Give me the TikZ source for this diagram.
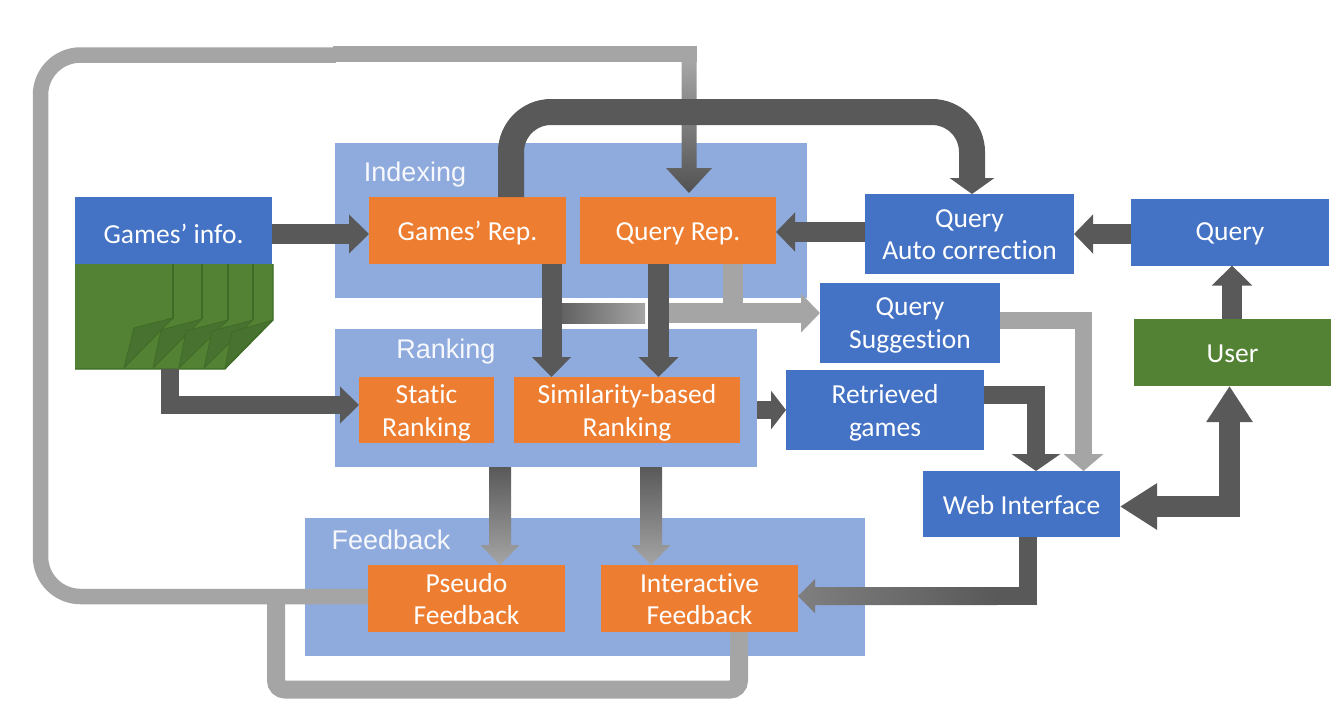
\documentclass[tikz,border=0pt]{standalone}
\usepackage{fontspec}
\setmainfont[Ligatures=NoCommon]{Carlito}
\newfontfamily\titlefont{Liberation Sans}
\usetikzlibrary{arrows.meta,calc}
\definecolor{blueb}{HTML}{4472C4}
\definecolor{orangeb}{HTML}{ED7D31}
\definecolor{greenb}{HTML}{548235}
\definecolor{greenl}{HTML}{3F6B26}
\definecolor{greenf}{HTML}{487230}
\definecolor{regionb}{HTML}{8FAADC}
\definecolor{darkc}{HTML}{595959}
\definecolor{grayc}{HTML}{A5A5A5}
\tikzset{
  txt/.style={inner sep=0pt,outer sep=0pt,text=white,align=center,font=\fontsize{27.5}{32.5}\selectfont},
  bx/.style={inner sep=0pt,outer sep=0pt},
  bluebox/.style={bx,fill=blueb},
  orangebox/.style={bx,fill=orangeb},
  greenbox/.style={bx,fill=greenb},
  region/.style={inner sep=0pt,outer sep=0pt,fill=regionb},
  regtitle/.style={inner sep=0pt,anchor=base,text=white!92!regionb,font=\titlefont\fontsize{27}{30}\selectfont},
  darkline/.style={draw=darkc,line join=miter},
  grayline/.style={draw=grayc,line join=miter},
  dkgrad/.style={top color=darkc,bottom color=grayc,draw=none},
  pageline/.style={draw=greenl,line width=1.1pt,line join=miter},
  fold/.style={draw=greenl,fill=greenf,line width=.8pt,line join=round}
}
% start, end, half shaft, half head, head length
\newcommand{\vgradarrow}[6][]{%
  \shade[#1] ($(#2)+(-#4,0)$) -- ($(#2)+(#4,0)$) -- ($(#3)+(#4,-#6)$) -- ($(#3)+(#5,-#6)$) -- (#3)
     -- ($(#3)+(-#5,-#6)$) -- ($(#3)+(-#4,-#6)$) -- cycle;}
% style, name, x, y, width, height, text drop, text
\newcommand{\boxnode}[8]{%
  \node[#1,minimum width=#5pt,minimum height=#6pt] (#2) at (#3,#4) {};
  \node[txt] (#2-t) at ([yshift=-#7pt]#2.center) {#8};}
\begin{document}
\begin{tikzpicture}[x=1pt,y=-1pt]
\useasboundingbox (0,0) rectangle (1344,721);
% regions
\node[region,minimum width=472pt,minimum height=155pt] (indexing) at (571,220.5) {};
\node[region,minimum width=422pt,minimum height=138pt] (ranking) at (546,398) {};
\node[region,minimum width=560pt,minimum height=138pt] (feedback) at (585,587) {};
\node[regtitle] (tindex) at (415,181) {Indexing};
\node[regtitle] (trank) at (446,358) {Ranking};
\node[regtitle] (tfeed) at (391,549) {Feedback};
% boxes
\boxnode{bluebox}{gi}{173.5}{230.5}{197}{67}{3}{Games’ info.}
\boxnode{orangebox}{gr}{467.5}{230.5}{197}{67}{3}{Games’ Rep.}
\boxnode{orangebox}{qr}{678}{230.5}{196}{67}{3}{Query Rep.}
\boxnode{bluebox}{qa}{969.5}{234}{209}{80}{0.5}{Query\\Auto correction}
\boxnode{bluebox}{qu}{1230}{232}{198}{67}{2}{Query}
\boxnode{bluebox}{qs}{910}{323}{180}{80}{2.5}{Query\\Suggestion}
\boxnode{greenbox}{us}{1232.5}{352.5}{197}{67}{1}{User}
\boxnode{bluebox}{rg}{885}{410}{198}{80}{3}{Retrieved\\games}
\boxnode{bluebox}{wi}{1021.5}{504}{197}{66}{1}{Web Interface}
\boxnode{orangebox}{sr}{426.5}{410}{135}{66}{3}{Static\\Ranking}
\boxnode{orangebox}{si}{627}{410}{226}{66}{3}{Similarity-based\\Ranking}
\boxnode{orangebox}{pf}{466.5}{598.5}{197}{67}{0.5}{Pseudo\\Feedback}
\boxnode{orangebox}{fi}{699.5}{598.5}{197}{67}{0.5}{Interactive\\Feedback}
% document stack
\coordinate (ds) at (75,264);
\fill[greenb] (ds) -- (273,264) -- (273,320) -- (225,369) -- (75,369) -- cycle;
\draw[pageline] (173,264) -- (173,319);
\draw[pageline] (202,264) -- (202,319);
\draw[pageline] (228,264) -- (228,320);
\draw[pageline] (253,264) -- (253,320);
\draw[fold] (173,318) -- (134,328) -- (124,368) -- cycle;
\draw[fold] (202,319) -- (161,330) -- (153,368) -- cycle;
\draw[fold] (228,320) -- (186,331) -- (179,368) -- cycle;
\draw[fold] (253,320) -- (212,331) -- (204,368) -- cycle;
\draw[fold] (273,320) -- (232,332) -- (225,368) -- cycle;
\draw[pageline] (273,264) -- (273,320) -- (225,369) -- (75,369);
\node[inner sep=0pt,minimum width=198pt,minimum height=105pt] (docs) at (174,316.5) {};
% light grey connectors
\draw[grayline,line width=18pt,rounded corners=9pt] (739,0 |- fi.south) -- (739,689.5) -- (276,689.5) -- (276,596);
\draw[grayline,line width=15.5pt,rounded corners=40pt] (pf.west |- 0,596.5) -- (40.5,596.5) -- (40.5,55) -- (336,55);
\draw[grayline,line width=16pt] (333,54) -- (697,54);
\coordinate (qrtop) at (689,193);
\coordinate (qrbar) at (689,62);
\vgradarrow[top color=grayc,bottom color=darkc!92!black,draw=none]{qrbar}{qrtop}{7.5}{23}{25}
% Games' Rep. to Auto correction
\draw[darkline,line width=26pt,rounded corners=40pt,-{Triangle[width=44pt,length=16pt]}] (511,0 |- gr.north) -- (511,112) -- (972,112) -- (972,0 |- qa.north);
% horizontal
\draw[darkline,line width=20pt,-{Triangle[width=38pt,length=20pt]}] (gi.east |- 0,234) -- (gr.west |- 0,234);
\draw[darkline,line width=20pt,-{Triangle[width=38pt,length=19pt]}] (qu.west |- 0,234) -- (qa.east |- 0,234);
\draw[darkline,line width=20pt,-{Triangle[width=38pt,length=19pt]}] (qa.west |- 0,232) -- (qr.east |- 0,232);
\draw[darkline,line width=18pt,-{Triangle[width=38pt,length=15pt]}] (ranking.east |- 0,410) -- (rg.west |- 0,410);
% docs to Static Ranking
\draw[darkline,line width=18pt,-{Triangle[width=36pt,length=19pt]}] (169.5,0 |- docs.south) -- (169.5,405) -- (sr.west |- 0,405);
% Query Rep. to Query Suggestion
\coordinate (gb1) at (551,303);
\coordinate (gb2) at (645,323);
\draw[grayline,line width=20pt,-{Triangle[width=38pt,length=19pt]}] (650,313) -- (qs.west |- 0,313);
\draw[grayline,line width=20pt] (733,0 |- qr.south) -- (733,313);
\shade[left color=darkc,right color=grayc,draw=none] (gb1) rectangle (gb2);
% Rep to ranking
\draw[darkline,line width=20pt,-{Triangle[width=38pt,length=20pt]}] (551.5,0 |- gr.south) -- (551.5,0 |- si.north);
\draw[darkline,line width=21pt,-{Triangle[width=39pt,length=20pt]}] (658.5,0 |- qr.south) -- (658.5,0 |- si.north);
% ranking to feedback
\coordinate (a1s) at (500,0 |- ranking.south);
\coordinate (a1e) at (500,0 |- pf.north);
\coordinate (a2s) at (651,0 |- ranking.south);
\coordinate (a2e) at (651,0 |- fi.north);
\vgradarrow[dkgrad]{a1s}{a1e}{11}{19.5}{20}
\vgradarrow[dkgrad]{a2s}{a2e}{11}{19.5}{20}
% to Web Interface
\draw[darkline,line width=18pt,-{Triangle[width=48pt,length=17pt]}] (rg.east |- 0,395) -- (1036,395) -- (1036,0 |- wi.north);
\draw[grayline,line width=17pt,-{Triangle[width=39pt,length=17pt]}] (qs.east |- 0,320) -- (1083.5,320) -- (1083.5,0 |- wi.north);
% Web Interface <-> User
\draw[darkline,line width=21pt,{Triangle[width=44pt,length=37pt]}-{Triangle[width=44pt,length=36pt]}] (wi.east |- 0,506.5) -- (1229.5,506.5) -- (1229.5,0 |- us.south);
% User to Query
\draw[darkline,line width=20pt,-{Triangle[width=39pt,length=20pt]}] (1232,0 |- us.north) -- (1232,0 |- qu.south);
% Web Interface to Interactive Feedback
\draw[darkline,line width=18pt] (1028,0 |- wi.south) -- (1028,596) -- (995,596);
\shade[left color=darkc!50!grayc,right color=darkc,draw=none]
  (fi.east |- 0,596) -- (815,579) -- (815,587) -- (997,587) -- (997,605) -- (815,605) -- (815,613) -- cycle;
\end{tikzpicture}
\end{document}
